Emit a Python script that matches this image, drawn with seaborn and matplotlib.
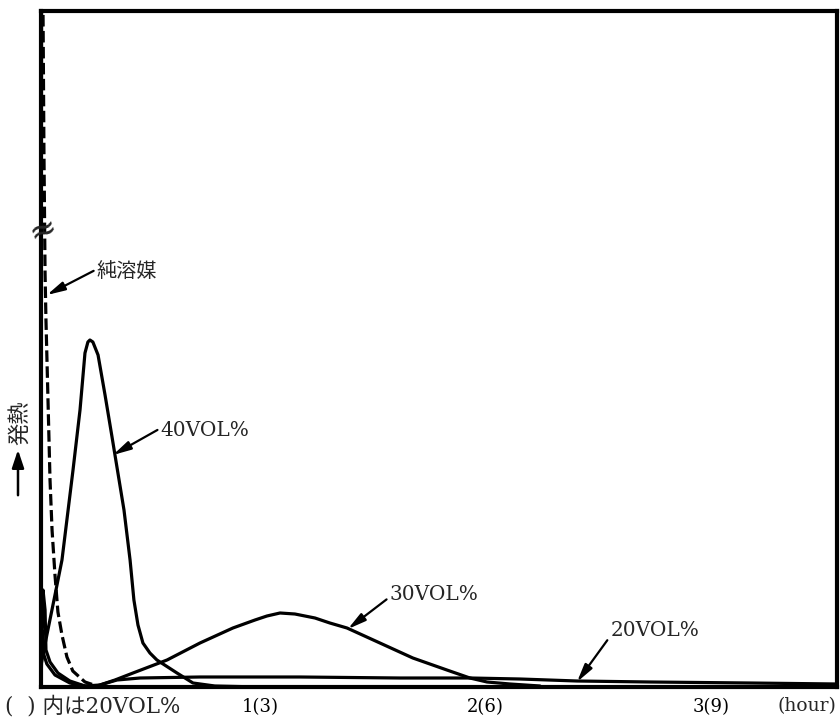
import numpy as np
import pandas as pd
import matplotlib
matplotlib.use("Agg")
import matplotlib.pyplot as plt
import seaborn as sns

# ---------------- data (hours, relative heat output) ----------------
solvent_x = [0.029, 0.033, 0.038, 0.042, 0.047, 0.051, 0.060, 0.069, 0.078, 0.091,
             0.104, 0.122, 0.144, 0.170, 0.224, 0.277]
solvent_y = [0, 1090, 676, 537, 414, 367, 287, 207, 157, 112,
             75, 52, 30, 16, 5, 1]

vol40_x = [0.029, 0.055, 0.091, 0.122, 0.171, 0.202, 0.224, 0.237, 0.246, 0.259,
           0.282, 0.313, 0.344, 0.397, 0.424, 0.441, 0.459, 0.481, 0.512, 0.543,
           0.632, 0.703, 0.800, 1.000]
vol40_y = [22, 52, 92, 127, 217, 277, 334, 345, 347, 345,
           332, 292, 250, 177, 127, 87, 62, 44, 34, 27,
           14, 4, 1, 0]

vol30_x = [0.029, 0.038, 0.047, 0.051, 0.069, 0.104, 0.157, 0.224, 0.277, 0.357,
           0.437, 0.588, 0.734, 0.880, 0.978, 1.031, 1.089, 1.155, 1.244, 1.310,
           1.386, 1.532, 1.678, 1.829, 1.931, 2.007, 2.109, 2.242]
vol30_y = [0, 97, 77, 37, 25, 14, 6, 1, 1, 7,
           14, 27, 44, 59, 67, 71, 74, 73, 69, 64,
           59, 44, 29, 17, 9, 5, 3, 1]

vol20_x = [0.029, 0.033, 0.042, 0.055, 0.091, 0.157, 0.224, 0.290, 0.366, 0.468,
           0.734, 1.177, 1.621, 1.931, 2.153, 2.406, 2.730, 3.173, 3.559]
vol20_y = [0, 57, 32, 23, 12, 4, 1, 2, 7, 9,
           10, 10, 9, 9, 8, 6, 5, 4, 3]

tick_pos = [1, 2, 3]
tick_labels = ["1(3)", "2(6)", "3(9)"]

label_solvent = "純溶媒"
label_40 = "40VOL%"
label_30 = "30VOL%"
label_20 = "20VOL%"
ylabel = "発熱"
note = "(  ) 内は20VOL%"
unit = "(hour)"

# ---------------- style ----------------
sns.set_style("white")
FAM = ["DejaVu Serif", "Noto Sans CJK JP", "DejaVu Sans"]
plt.rcParams["font.family"] = FAM

fig = plt.figure(figsize=(8.4, 7.22), dpi=100)
ax = fig.add_axes([41 / 840, 35 / 722, (837 - 41) / 840, (687 - 11) / 722])

LW = 2.3
sns.lineplot(x=solvent_x, y=solvent_y, ax=ax, color="black", lw=LW,
             estimator=None, sort=False, linestyle=(0, (3.6, 1.4)))
sns.lineplot(x=vol40_x, y=vol40_y, ax=ax, color="black", lw=LW, estimator=None, sort=False)
sns.lineplot(x=vol30_x, y=vol30_y, ax=ax, color="black", lw=LW, estimator=None, sort=False)
sns.lineplot(x=vol20_x, y=vol20_y, ax=ax, color="black", lw=LW, estimator=None, sort=False)

ax.set_xlim(0.029, 3.559)
ax.set_ylim(0, 676)
ax.set_xticks(tick_pos)
ax.set_xticklabels(tick_labels, fontsize=13)
ax.set_yticks([])
ax.set_xlabel("")
ax.set_ylabel("")
ax.tick_params(axis="x", direction="out", length=5, width=1.6, pad=3, colors="black")
for s in ax.spines.values():
    s.set_visible(True)
    s.set_linewidth(3.0)
    s.set_color("black")

# axis break mark on the truncated solvent spike
ax.text(0.037, 457, "≈", fontsize=24, rotation=20, ha="center", va="center",
        family="DejaVu Sans", clip_on=False, zorder=5)

aprops = dict(arrowstyle="-|>,head_length=0.9,head_width=0.22", color="black",
              lw=1.6, shrinkA=0, shrinkB=0, mutation_scale=12)

FS = 14.5
ax.annotate(label_solvent, xy=(0.055, 392), xytext=(0.277, 415), fontsize=FS,
            ha="left", va="center", arrowprops=dict(aprops, relpos=(0, 0.65)))
ax.annotate(label_40, xy=(0.348, 232), xytext=(0.560, 257), fontsize=FS,
            ha="left", va="center", arrowprops=dict(aprops, relpos=(0, 0.6)))
ax.annotate(label_30, xy=(1.390, 58), xytext=(1.576, 92), fontsize=FS,
            ha="left", va="center", arrowprops=dict(aprops, relpos=(0, 0.4)))
ax.annotate(label_20, xy=(2.406, 5), xytext=(2.555, 57), fontsize=FS,
            ha="left", va="center", arrowprops=dict(aprops, relpos=(0, 0.2)))

# y-axis label with upward arrow
fig.text(20 / 840, 1 - 423 / 722, ylabel, rotation=90, fontsize=16,
         ha="center", va="center")
fig.patches.append(matplotlib.patches.FancyArrowPatch(
    (18 / 840, 1 - 498 / 722), (18 / 840, 1 - 447 / 722),
    transform=fig.transFigure, arrowstyle="-|>,head_length=0.9,head_width=0.3",
    mutation_scale=12, color="black", lw=1.8))

fig.text(5 / 840, 1 - 707 / 722, note, fontsize=15.5, ha="left", va="center")
fig.text(807 / 840, 1 - 706 / 722, unit, fontsize=13.5, ha="center", va="center")

fig.savefig("out.png", dpi=100)
